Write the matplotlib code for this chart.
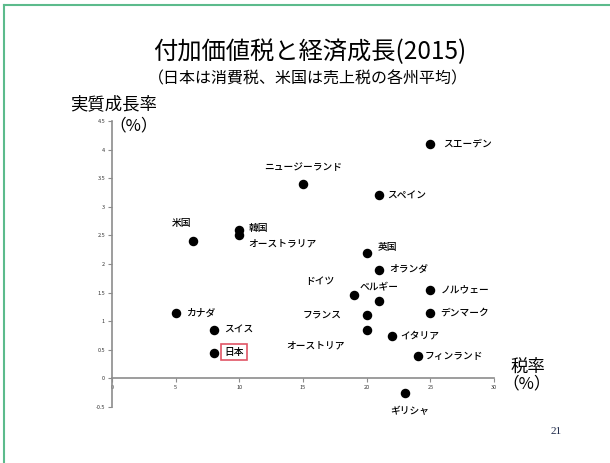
import matplotlib.pyplot as plt
from matplotlib.lines import Line2D

plt.rcParams['font.family'] = ['Noto Sans CJK JP', 'DejaVu Sans']

# 税率(%) と 実質成長率(%), 2015
countries = ['スエーデン', 'ニュージーランド', 'スペイン', '米国', '韓国', 'オーストラリア',
             '英国', 'オランダ', 'ドイツ', 'ベルギー', 'ノルウェー', 'デンマーク',
             'フランス', 'イタリア', 'オーストリア', 'フィンランド', 'ギリシャ',
             'カナダ', 'スイス', '日本']
tax_rate = [25, 15, 21, 6.4, 10, 10,
            20, 21, 19, 21, 25, 25,
            20, 22, 20, 24, 23,
            5, 8, 8]
growth = [4.1, 3.4, 3.2, 2.4, 2.6, 2.5,
          2.2, 1.9, 1.45, 1.35, 1.55, 1.15,
          1.1, 0.75, 0.85, 0.4, -0.25,
          1.15, 0.85, 0.45]

# ラベル位置 (点からのピクセルオフセット, 揃え)
label_pos = {
    'スエーデン': (13, 0, 'left'),
    'ニュージーランド': (0, 17, 'center'),
    'スペイン': (8, 0, 'left'),
    '米国': (-12, 18, 'center'),
    '韓国': (9, 2, 'left'),
    'オーストラリア': (9, -8, 'left'),
    '英国': (11, 6, 'left'),
    'オランダ': (10, 1, 'left'),
    'ドイツ': (-34, 14, 'center'),
    'ベルギー': (0, 14, 'center'),
    'ノルウェー': (10, 0, 'left'),
    'デンマーク': (10, 0, 'left'),
    'フランス': (-45, 1, 'center'),
    'イタリア': (8, 0, 'left'),
    'オーストリア': (-51, -16, 'center'),
    'フィンランド': (7, 0, 'left'),
    'ギリシャ': (5, -18, 'center'),
    'カナダ': (10, 0, 'left'),
    'スイス': (10, 0, 'left'),
    '日本': (20, 1, 'center'),
}

W, H = 610, 463
fig = plt.figure(figsize=(W / 100, H / 100), dpi=100)
ax = fig.add_axes([112 / W, 1 - 407 / H, (494 - 112) / W, (407 - 121) / H])

ax.scatter(tax_rate, growth, s=34, color='black', zorder=3)

for name, x, y in zip(countries, tax_rate, growth):
    dx, dy, ha = label_pos[name]
    kw = {}
    if name == '日本':
        kw['bbox'] = dict(boxstyle='square,pad=0.3', fc='white', ec='#e05566', lw=1.2)
    ax.annotate(name, (x, y), xytext=(dx, dy), textcoords='offset pixels',
                ha=ha, va='center', fontsize=7, fontweight='medium', **kw)

ax.set_xlim(0, 30)
ax.set_ylim(-0.5, 4.5)
ax.set_xticks([0, 5, 10, 15, 20, 25, 30])
ax.set_yticks([-0.5, 0, 0.5, 1, 1.5, 2, 2.5, 3, 3.5, 4, 4.5])
ax.set_yticklabels(['-0.5', '0', '0.5', '1', '1.5', '2', '2.5', '3', '3.5', '4', '4.5'])

for side in ['top', 'right']:
    ax.spines[side].set_visible(False)
ax.spines['bottom'].set_position(('data', 0))
for side in ['left', 'bottom']:
    ax.spines[side].set_color('#8c8c8c')
    ax.spines[side].set_linewidth(1.2)
ax.tick_params(axis='both', direction='out', length=3, width=0.8, color='#8c8c8c',
               labelsize=4, labelcolor='#333333', pad=2)
ax.patch.set_visible(False)

# タイトルと軸ラベル
fig.text(310 / W, 1 - 52 / H, '付加価値税と経済成長(2015)', ha='center', va='center', fontsize=17.5)
fig.text(308 / W, 1 - 79 / H, '（日本は消費税、米国は売上税の各州平均）', ha='center', va='center', fontsize=11.5)
fig.text(114 / W, 1 - 104 / H, '実質成長率', ha='center', va='center', fontsize=12.5)
fig.text(134 / W, 1 - 126 / H, '（%）', ha='center', va='center', fontsize=12)
fig.text(528 / W, 1 - 367 / H, '税率', ha='center', va='center', fontsize=12.5)
fig.text(527 / W, 1 - 384 / H, '（%）', ha='center', va='center', fontsize=12)
fig.text(556 / W, 1 - 432 / H, '21', ha='center', va='center', fontsize=8,
         family='Liberation Serif', color='#1f2a4a')

# スライドの枠線
fig.add_artist(Line2D([4 / W, 4 / W], [0, 1 - 5 / H], color='#5cbb8c', lw=1.5))
fig.add_artist(Line2D([4 / W, 1], [1 - 5 / H, 1 - 5 / H], color='#5cbb8c', lw=1.5))

fig.savefig('out.png', dpi=100)
